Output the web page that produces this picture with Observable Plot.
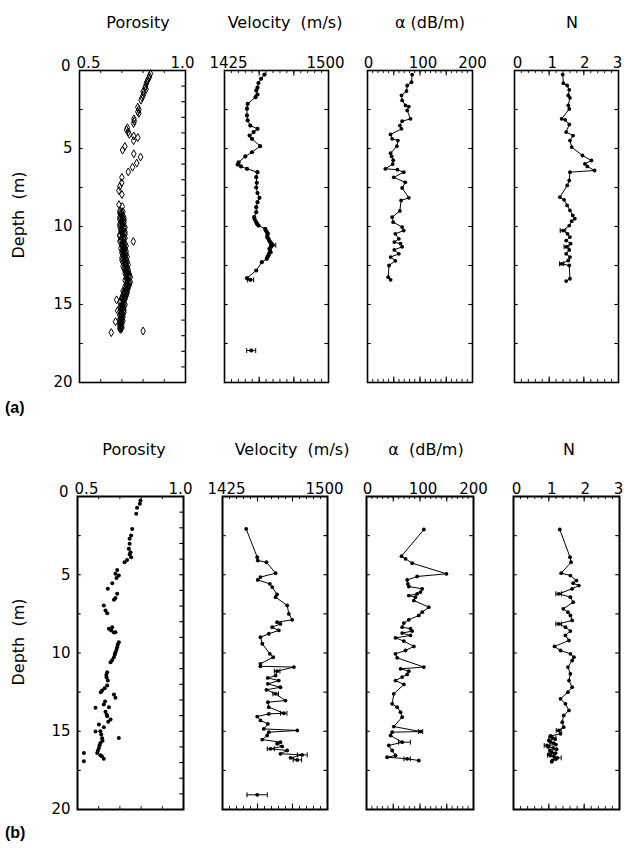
<!DOCTYPE html>
<html><head><meta charset="utf-8">
<script src="https://cdn.jsdelivr.net/npm/d3@7"></script>
<script src="https://cdn.jsdelivr.net/npm/@observablehq/plot@0.6"></script>
<style>
body{margin:0;background:#fff;}
#fig{position:relative;width:624px;height:850px;font-family:"DejaVu Sans",sans-serif;color:#000;overflow:hidden;}
.t{position:absolute;font-size:16px;white-space:pre;transform:translateX(-50%);line-height:16px;}
.lab{position:absolute;font-size:16px;font-weight:bold;line-height:16px;font-family:"Liberation Sans",sans-serif;}
.ylab{position:absolute;font-size:16px;transform:translate(-50%,-50%) rotate(-90deg);white-space:pre;line-height:16px;}
#fig svg{position:absolute;overflow:visible;}
</style></head><body><div id="fig"></div>
<script>
// ---------- titles & tick labels ----------
const titlesA = ["Porosity", "Velocity  (m/s)", "α (dB/m)", "N"];
const titlesB = ["Porosity", "Velocity  (m/s)", "α  (dB/m)", "N"];
const depthLabels = [0, 5, 10, 15, 20];
const porLabels = [0.5, 1.0];
const velLabels = [1425, 1500];
const alphaLabels = [0, 100, 200];
const nLabels = [0, 1, 2, 3];

// ---------- (a) data: [depth m, value] ----------
const porA = [
 [0.2,.835],[0.35,.83],[0.47,.828],[0.6,.822],[0.72,.818],[0.85,.815],[1.0,.812],[1.1,.81],[1.2,.814],[1.35,.80],[1.45,.803],[1.6,.80],[1.75,.795],[1.9,.79],
 [2.35,.775],[2.5,.78],[2.65,.775],[2.75,.78],[3.1,.757],[3.25,.758],[3.4,.755],
 [3.67,.726],[3.8,.722],[3.95,.73],[4.1,.735],[4.2,.756],[4.3,.775],[4.5,.755],[4.87,.714],[5.1,.703],
 [5.34,.756],[5.55,.788],[5.94,.77],[6.2,.75],[6.5,.73],[6.85,.70],[7.2,.699],[7.43,.69],[7.7,.686],[7.95,.70],[8.6,.686],[8.72,.702],
 [9.0,.69],[9.1,.70],[9.2,.695],[9.3,.705],[9.4,.69],[9.5,.70],[9.6,.71],[9.7,.695],[9.8,.70],[9.9,.705],
 [10.0,.69],[10.1,.71],[10.2,.70],[10.3,.695],[10.4,.705],[10.5,.715],[10.6,.69],[10.7,.70],[10.8,.71],[10.9,.695],
 [11.0,.705],[11.1,.715],[11.2,.70],[11.3,.71],[11.4,.695],[11.5,.705],[11.6,.72],[11.7,.70],[11.8,.71],[11.9,.715],
 [12.0,.70],[12.1,.72],[12.2,.71],[12.3,.705],[12.4,.72],[12.5,.715],[12.6,.725],[12.7,.71],[12.8,.72],[12.9,.73],
 [13.0,.715],[13.1,.725],[13.2,.735],[13.3,.72],[13.4,.73],[13.5,.725],[13.6,.735],[13.7,.72],[13.8,.73],[13.9,.725],
 [14.0,.715],[14.1,.725],[14.2,.71],[14.3,.72],[14.4,.705],[14.5,.715],[14.6,.70],[14.7,.71],[14.8,.695],[14.9,.705],
 [15.0,.715],[15.1,.70],[15.2,.69],[15.3,.705],[15.4,.695],[15.5,.71],[15.6,.70],[15.7,.69],[15.8,.705],[15.9,.695],
 [16.0,.70],[16.1,.69],[16.2,.70],[16.3,.695],[16.4,.69],[16.5,.70],[16.6,.695],
 [9.05,.705],[9.15,.69],[9.35,.70],[9.45,.71],[9.55,.69],[9.65,.70],[9.75,.71],[9.85,.69],[9.95,.70],
 [10.05,.715],[10.15,.695],[10.25,.705],[10.35,.715],[10.45,.70],[10.55,.69],[10.65,.71],[10.75,.715],[10.85,.70],[10.95,.69],
 [11.05,.71],[11.15,.70],[11.25,.72],[11.35,.705],[11.45,.715],[11.55,.70],[11.65,.71],[11.75,.72],[11.85,.705],[11.95,.725],
 [12.05,.71],[12.15,.70],[12.25,.725],[12.35,.715],[12.45,.73],[12.55,.705],[12.65,.72],[12.75,.73],[12.85,.715],[12.95,.725],
 [13.05,.735],[13.15,.72],[13.25,.74],[13.35,.725],[13.45,.715],[13.55,.74],[13.65,.725],[13.75,.735],[13.85,.715],[13.95,.73],
 [14.05,.72],[14.15,.705],[14.25,.725],[14.35,.71],[14.45,.72],[14.55,.70],[14.65,.715],[14.75,.705],[14.85,.69],[14.95,.71],
 [15.05,.70],[15.15,.71],[15.25,.695],[15.35,.71],[15.45,.69],[15.55,.70],[15.65,.705],[15.75,.695],[15.85,.70],[15.95,.69],
 [16.05,.705],[16.15,.695],[16.25,.69],[16.35,.70],[16.45,.695],[16.55,.69],
 [10.96,.754],[14.7,.675],[15.4,.68],[16.1,.67],[16.8,.65],[16.7,.80]
];
const velA = [
 [0.26,1453.8],[0.53,1451.4],[0.8,1449.5],[1.1,1448.8],[1.28,1447.9],[1.54,1448.8],[1.71,1447.4],[2.14,1441.7],[2.45,1441.2],[2.88,1441.2],
 [3.2,1441.7],[3.53,1443.6],[3.74,1448.8],[3.95,1446.0],[4.17,1443.1],[4.38,1444.8],[4.85,1450.7],[5.24,1444.8],[5.51,1440.0],[5.88,1435.2],
 [6.03,1434.5],[6.15,1436.9],[6.3,1441.2],[6.52,1448.8],[6.84,1447.9],[7.2,1448.3],[7.5,1447.9],[7.86,1448.8],[8.16,1450.2],[8.44,1448.8],
 [8.76,1447.9],[9.08,1447.9],[9.4,1446.4],[9.55,1446.8],[9.72,1447.9],[9.85,1448.6],[9.94,1449.5],[10.15,1454.3],[10.25,1454.8],[10.36,1455.5],
 [10.45,1456.3],[10.58,1455.9],[10.7,1455.9],[10.79,1456.7],[10.9,1457.2],[11.0,1457.9],[11.1,1459.0],[11.2,1459.8],[11.3,1458.6],[11.43,1457.4],
 [11.55,1457.8],[11.65,1458.3],[11.75,1457.0],[11.86,1456.7],[11.95,1456.0],[12.07,1455.5],[12.29,1451.9],[12.82,1447.9],[13.31,1441.2],[13.42,1443.6]
];
const velAIso = [[17.95,1444.3]];
const velAErr = [[11.2,1457.5,1462.0],[13.42,1441.5,1446.0],[17.95,1441.0,1447.5]];
const alphaA = [
 [0.26,85.1],[0.75,83.8],[0.96,75.6],[1.32,74.3],[1.6,64.8],[1.92,66],[2.24,72.4],[2.31,78.7],[2.56,75.6],[3.1,81.9],
 [3.25,66],[3.53,61.6],[3.74,64.8],[4.1,43.8],[4.38,47],[4.49,57.8],[4.85,56],[5.3,44],[5.5,46],[5.75,49],
 [6.0,48],[6.3,34],[6.36,57],[6.52,69],[6.85,50],[7.17,72],[7.53,66],[8.16,78.7],[8.33,64],[9.0,61.6],
 [9.4,47],[9.72,49],[10.04,66],[10.26,69],[10.47,53],[10.79,59.7],[11.0,51],[11.1,63],[11.3,66],[11.5,51],
 [11.75,59.7],[11.96,44],[12.2,53],[12.5,41],[13.25,39.4],[13.42,44]
];
const nA = [
 [0.26,1.39],[0.81,1.41],[0.96,1.52],[1.24,1.58],[1.6,1.55],[1.75,1.6],[2.24,1.55],[2.46,1.58],[3.1,1.36],[3.16,1.46],
 [3.46,1.58],[3.95,1.49],[4.17,1.69],[4.49,1.6],[4.91,1.65],[5.45,1.96],[5.77,2.22],[5.98,2.03],[6.15,2.1],[6.41,2.31],
 [6.52,1.6],[7.05,1.58],[7.37,1.52],[8.12,1.31],[8.29,1.43],[8.65,1.52],[8.97,1.6],[9.29,1.68],[9.5,1.74],[9.66,1.65],
 [9.94,1.58],[10.26,1.40],[10.47,1.53],[10.68,1.6],[10.9,1.49],[11.1,1.62],[11.3,1.5],[11.5,1.58],[11.75,1.49],[11.96,1.6],
 [12.18,1.55],[12.39,1.36],[12.5,1.58],[13.35,1.6],[13.5,1.49]
];
const nAErr = [[10.26,1.32,1.48],[12.39,1.30,1.42],[11.3,1.43,1.57]];

// ---------- (b) data ----------
const porB = [
 [0.26,.797],[0.47,.794],[0.72,.781],[1.1,.777],[2.07,.758],[2.49,.753],[2.7,.746],[3.02,.746],[3.34,.742],[3.56,.750],
 [3.7,.746],[3.88,.753],[4.05,.734],[4.2,.722],[4.69,.687],[4.94,.679],[5.2,.684],[5.05,.695],[5.54,.664],[5.9,.643],
 [6.22,.687],[6.48,.679],[6.6,.672],[6.97,.624],[7.28,.632],[7.46,.640],[8.35,.664],[8.45,.648],[8.56,.659],[8.69,.672],
 [8.67,.679],[9.31,.695],[9.63,.687],[9.95,.679],[10.27,.672],[10.59,.656],[11.23,.640],[11.55,.637],[11.76,.643],[12.08,.640],
 [12.4,.616],[12.5,.610],[12.65,.672],[12.86,.679],[13.29,.624],[13.46,.648],[13.5,.585],[13.76,.632],[14.04,.640],[14.25,.656],
 [14.57,.601],[14.74,.624],[15.0,.608],[15.02,.585],[15.43,.695],[15.45,.616],[15.75,.608],[16.07,.601],[16.39,.593],[16.54,.608],
 [16.75,.624],[16.39,.530],[16.92,.530],[9.45,.69],[9.8,.684],[10.1,.676],[10.45,.664],[11.4,.636],[12.25,.628],[13.1,.630],
 [13.95,.638],[14.4,.645],[15.2,.612],[15.6,.618],[15.9,.604],[16.25,.596],[16.6,.615]
];
const velB = [
 [2.07,1441.9],[3.88,1449.8],[4.09,1450.2],[4.2,1456.4],[4.9,1462.9],[5.15,1452.1],[5.33,1450.2],[5.58,1458.8],[5.79,1460.5],[6.26,1464.0],
 [6.43,1462.9],[6.96,1471.2],[7.5,1472.4],[7.88,1474.8],[8.03,1464.0],[8.14,1466.4],[8.35,1460.5],[8.56,1465.2],[8.77,1458.1],[8.99,1452.1],
 [9.41,1453.4],[10.05,1458.8],[10.27,1461.2],[10.69,1452.1],[10.85,1452.1],[10.9,1476.0],[11.16,1464.0],[11.44,1462.9],[11.59,1457.4],[11.76,1465.2],
 [11.97,1457.4],[12.19,1466.4],[12.35,1456.4],[12.61,1462.9],[13.04,1470.0],[13.14,1457.4],[13.46,1458.1],[13.85,1468.8],[13.89,1458.1],[14.06,1449.8],
 [14.31,1452.1],[14.53,1457.4],[14.85,1454.5],[14.95,1478.4],[15.06,1458.1],[15.27,1456.9],[15.53,1453.4],[15.7,1466.4],[15.8,1464.0],[15.97,1467.6],
 [16.12,1459.3],[16.23,1471.2],[16.44,1466.4],[16.51,1481.9],[16.7,1473.6],[16.83,1478.4]
];
const velBIso = [[19.06,1449.8]];
const velBErr = [[11.16,1462,1466],[12.61,1461,1465],[13.85,1466.5,1471],[16.51,1478.5,1485.5],[16.83,1475.5,1481.5],[16.12,1457,1462],[19.06,1442.5,1457]];
const alphaB = [
 [2.11,107.2],[3.81,65.4],[3.98,72.9],[4.26,85.4],[4.94,149.5],[5.11,94.7],[5.33,76],[5.58,77.3],[5.75,79.1],[5.9,104.1],
 [6.11,100.9],[6.22,94.7],[6.33,79.1],[6.43,91.6],[6.65,88.5],[7.07,116.5],[7.39,104.1],[7.6,97.8],[7.88,79.1],[8.09,69.8],
 [8.35,66.7],[8.45,82.2],[8.6,85.4],[8.73,66.7],[8.88,82.2],[9.03,54.2],[9.24,69.8],[9.58,88.5],[9.84,72.9],[10.05,54.2],
 [10.31,57.3],[10.9,107.2],[11.01,63.6],[11.16,79.1],[11.37,76],[11.54,66.7],[11.76,54.2],[12.01,69.8],[12.61,51],[13.25,48],
 [13.46,57.3],[13.78,63.6],[14.1,66.7],[14.7,51],[15.02,100.9],[15.06,48],[15.27,44.9],[15.7,66.7],[15.91,41.7],[16.23,48],
 [16.55,54.2],[16.66,38.6],[16.76,76],[16.87,97.8]
];
const alphaBErr = [[15.7,60,82],[16.76,70,82],[15.02,97,105]];
const nB = [
 [2.11,1.31],[3.88,1.6],[4.2,1.63],[4.9,1.35],[5.05,1.61],[5.37,1.78],[5.54,1.69],[5.69,1.85],[5.9,1.66],[6.22,1.28],
 [6.43,1.61],[6.75,1.69],[7.18,1.41],[7.39,1.54],[7.6,1.61],[7.92,1.66],[8.14,1.28],[8.35,1.47],[8.6,1.61],[8.88,1.47],
 [9.2,1.57],[9.58,1.16],[9.84,1.33],[10.05,1.61],[10.27,1.71],[10.48,1.66],[10.9,1.54],[11.33,1.61],[11.76,1.57],[12.19,1.66],
 [12.5,1.54],[12.93,1.33],[13.25,1.47],[13.67,1.57],[13.99,1.42],[14.42,1.38],[14.74,1.42],[14.95,1.28],[15.16,1.33],[15.3,1.05],
 [15.42,1.1],[15.5,1.18],[15.59,1.0],[15.68,1.05],[15.76,1.14],[15.85,1.2],[15.91,0.95],[16.0,0.98],[16.06,1.12],[16.15,1.22],
 [16.23,1.03],[16.32,1.08],[16.4,1.19],[16.47,1.0],[16.55,1.05],[16.62,1.15],[16.7,1.24],[16.78,1.2],[16.87,1.1],[16.95,1.08]
];
const nBErr = [[6.22,1.2,1.36],[8.14,1.2,1.36],[15.42,1.0,1.2],[15.91,0.87,1.03],[16.55,0.97,1.13],[16.7,1.15,1.35],[14.95,1.21,1.35]];

// ---------- layout ----------
const ROWS = [
  {top: 70, bottom: 382, lefts: [79, 224, 367, 514], rights: [185, 328, 472, 618], titleY: 15, titleX: [138, 285, 430, 572], titles: titlesA, depthY: 215, tag: "(a)", tagY: 400},
  {top: 496, bottom: 809, lefts: [77, 222, 366, 513], rights: [183, 327, 473, 619], titleY: 442, titleX: [134, 292, 426, 569], titles: titlesB, depthY: 642, tag: "(b)", tagY: 825}
];
const fig = document.getElementById("fig");
const FONT = "DejaVu Sans, sans-serif";
const vbar = {draw(ctx, size) { const h = Math.sqrt(size / Math.PI); ctx.moveTo(0, -h); ctx.lineTo(0, h); }};

const VARS = [
  {domain: [0.5, 1.0], labels: porLabels, fmt: d3.format(".1f"), dx: [9, -3], minor: d3.range(0.6, 0.95, 0.1), major: [], rightStep: 1},
  {domain: [1425, 1500], labels: velLabels, fmt: d3.format("d"), dx: [4, -3], minor: d3.range(1430, 1500, 5), major: [1450, 1475], rightStep: 2.5},
  {domain: [0, 200], labels: alphaLabels, fmt: d3.format("d"), dx: [1, 3, 0], minor: d3.range(10, 200, 10), major: [50, 100, 150], rightStep: 2.5},
  {domain: [0, 3], labels: nLabels, fmt: d3.format("d"), dx: [3, 3, 1, -1], minor: d3.range(0.2, 2.95, 0.2), major: [1, 2], rightStep: 2.5}
];

function panel(row, col, dataMarks) {
  const R = ROWS[row], V = VARS[col];
  const fl = R.lefts[col], fr = R.rights[col];
  const iw = fr - fl, ih = R.bottom - R.top;
  const mL = 44, mR = 22, mT = 34, mB = 8;
  const [x0, x1] = V.domain, span = x1 - x0;
  const tl = span * 0.035;
  const leftTicks = [2.5, 5, 7.5, 10, 12.5, 15, 17.5];
  const rightTicks = d3.range(V.rightStep, 20 - 1e-6, V.rightStep);
  const marks = [
    Plot.ruleX(V.minor, {x: d => d, y1: 0, y2: 0.2, stroke: "black", strokeWidth: 0.9}),
    Plot.ruleX(V.minor, {x: d => d, y1: 20, y2: 19.8, stroke: "black", strokeWidth: 0.9}),
    Plot.ruleX(V.major, {x: d => d, y1: 0, y2: 0.35, stroke: "black", strokeWidth: 1.1}),
    Plot.ruleX(V.major, {x: d => d, y1: 20, y2: 19.65, stroke: "black", strokeWidth: 1.1}),
    Plot.ruleY(leftTicks, {y: d => d, x1: x0, x2: x0 + tl, stroke: "black", strokeWidth: 1.1}),
    Plot.ruleY(rightTicks, {y: d => d, x1: x1 - tl, x2: x1, stroke: "black", strokeWidth: 1.1}),
    ...dataMarks,
    Plot.frame({stroke: "black", strokeWidth: row === 0 ? 1.6 : 2}),
    ...V.labels.map((v, i) => Plot.text([v], {x: d => d, y: 0, text: d => V.fmt(d), lineAnchor: "bottom", dy: -3, dx: V.dx[i], fontSize: 15, fill: "black"}))
  ];
  if (col === 0) {
    marks.push(Plot.text(depthLabels.filter(d => d > 0), {x: x0, y: d => d, text: d => String(d), textAnchor: "end", dx: -7, fontSize: 15, fill: "black"}));
    marks.push(Plot.text(depthLabels.filter(d => d === 0), {x: x0, y: d => d, text: d => String(d), textAnchor: "end", dx: -9, dy: -4, fontSize: 15, fill: "black"}));
  }
  const svg = Plot.plot({
    width: iw + mL + mR, height: ih + mT + mB,
    marginLeft: mL, marginRight: mR, marginTop: mT, marginBottom: mB,
    x: {domain: V.domain, axis: null},
    y: {domain: [0, 20], reverse: true, axis: null},
    style: {fontFamily: FONT, fontSize: "15px", background: "none", overflow: "visible", color: "black"},
    marks
  });
  svg.style.left = (fl - mL) + "px";
  svg.style.top = (R.top - mT) + "px";
  fig.appendChild(svg);
}

const X = d => d[1], Y = d => d[0];
function profile(data, iso, err, r = 2) {
  const s = d3.sort(data, d => d[0]);
  const m = [
    Plot.line(s, {x: X, y: Y, stroke: "black", strokeWidth: 1}),
    Plot.dot(s, {x: X, y: Y, r, fill: "black"})
  ];
  if (err) {
    m.push(Plot.ruleY(err, {y: d => d[0], x1: d => d[1], x2: d => d[2], stroke: "black", strokeWidth: 1}));
    m.push(Plot.dot(err, {x: d => d[1], y: d => d[0], symbol: vbar, r: 2.5, stroke: "black", strokeWidth: 1}));
    m.push(Plot.dot(err, {x: d => d[2], y: d => d[0], symbol: vbar, r: 2.5, stroke: "black", strokeWidth: 1}));
  }
  if (iso) m.push(Plot.dot(iso, {x: X, y: Y, r, fill: "black"}));
  return m;
}

// Row (a)
panel(0, 0, [Plot.dot(porA, {x: X, y: Y, symbol: "diamond", r: 2.4, stroke: "black", fill: "none", strokeWidth: 1})]);
panel(0, 1, profile(velA, velAIso, velAErr, 2.1));
panel(0, 2, profile(alphaA, null, null, 1.9));
panel(0, 3, profile(nA, null, nAErr, 1.9));
// Row (b)
panel(1, 0, [Plot.dot(porB, {x: X, y: Y, r: 2, fill: "black"})]);
panel(1, 1, profile(velB, velBIso, velBErr, 1.9));
panel(1, 2, profile(alphaB, null, alphaBErr, 1.9));
panel(1, 3, profile(nB, null, nBErr, 1.9));

// HTML text: titles, depth labels, panel tags
for (const R of ROWS) {
  R.titles.forEach((t, i) => {
    const d = document.createElement("div");
    d.className = "t"; d.textContent = t;
    d.style.left = R.titleX[i] + "px"; d.style.top = R.titleY + "px";
    fig.appendChild(d);
  });
  const y = document.createElement("div");
  y.className = "ylab"; y.textContent = "Depth  (m)";
  y.style.left = "19px"; y.style.top = R.depthY + "px";
  fig.appendChild(y);
  const tg = document.createElement("div");
  tg.className = "lab"; tg.textContent = R.tag;
  tg.style.left = "5px"; tg.style.top = R.tagY + "px";
  fig.appendChild(tg);
}
</script></body></html>
